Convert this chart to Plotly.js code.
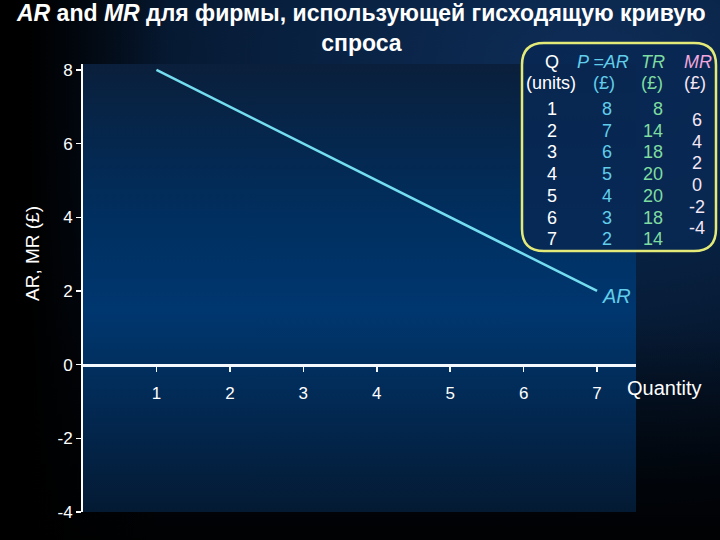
<!DOCTYPE html>
<html>
<head>
<meta charset="utf-8">
<script src="https://cdn.plot.ly/plotly-3.0.1.min.js"></script>
<style>
  html, body { margin:0; padding:0; width:720px; height:540px; overflow:hidden; }
  body {
    background:
      linear-gradient(90deg, #000 0px, #000 28px, rgba(0,0,0,0) 170px),
      linear-gradient(180deg, rgba(0,0,0,0) 60%, rgba(0,0,0,0.85) 100%),
      radial-gradient(ellipse 95% 85% at 82% 12%, #0e2d58 0%, #08203f 45%, #020a16 100%);
  }
  #plotbg {
    position:absolute; left:83px; top:64px; width:553px; height:448px;
    background: linear-gradient(180deg, #0a1f3b 0%, #002f60 35%, #00376f 55%, #022a55 75%, #041a33 100%);
  }
  #chart { position:absolute; left:0; top:0; width:720px; height:540px; }
</style>
</head>
<body>
<div id="plotbg"></div>
<div id="chart"></div>
<script>
// ---- data ----
const quantity = [1, 2, 3, 4, 5, 6, 7];
const priceAR = [8, 7, 6, 5, 4, 3, 2];
const totalRevenue = [8, 14, 18, 20, 20, 18, 14];
const marginalRevenue = [6, 4, 2, 0, -2, -4];
const yTicks = [8, 6, 4, 2, 0, -2, -4];
const xTicks = [1, 2, 3, 4, 5, 6, 7];
const titleText = '<b><i>AR</i> and <i>MR</i> для фирмы, использующей гисходящую кривую<br>спроса</b>';

// ---- layout helpers (pixel -> paper) ----
const L = 83, T = 64, W = 553, H = 448;
const px = x => (x - L) / W;
const py = y => (T + H - y) / H;

const yMin = -4, yMax = 8.16;
const white = '#ffffff';
const font = 'Liberation Sans, Arial, sans-serif';

const annotations = [];
function txt(text, x, y, color, size, xanchor, extra) {
  annotations.push(Object.assign({
    text: text, xref: 'paper', yref: 'paper', x: px(x), y: py(y),
    xanchor: xanchor || 'center', yanchor: 'middle', showarrow: false,
    font: {family: font, size: size || 18, color: color}
  }, extra || {}));
}

const cQ = '#ffffff', cAR = '#62cdea', cTR = '#7fdca0', cMR = '#f2a6dc', cMRv = '#f4e6f4';

// title
txt(titleText, 361, 28, white, 23, 'center');

// table headers
txt('Q', 552, 62, cQ);
txt('<i>P =AR</i>', 603, 62, cAR);
txt('<i>TR</i>', 653, 62, cTR);
txt('<i>MR</i>', 698, 62, cMR);
txt('(units)', 551, 83, cQ);
txt('(£)', 604, 83, cAR);
txt('(£)', 652, 83, cTR);
txt('(£)', 695, 83, cMRv);

// table rows
const rowY0 = 109, rowStep = 21.7;
quantity.forEach((q, i) => {
  const y = rowY0 + i * rowStep;
  txt(String(q), 552, y, cQ);
  txt(String(priceAR[i]), 607, y, cAR);
  txt(String(totalRevenue[i]), 665, y, cTR, 18, 'right');
});
marginalRevenue.forEach((m, i) => {
  const y = rowY0 + (i + 0.5) * rowStep;
  txt(String(m), 697, y, cMRv);
});

// AR label at end of curve
annotations.push({
  text: '<i>AR</i>', xref: 'x', yref: 'y',
  x: quantity[quantity.length - 1], y: priceAR[priceAR.length - 1],
  xanchor: 'left', yanchor: 'middle', xshift: 3, yshift: -5, showarrow: false,
  font: {family: font, size: 20, color: cAR}
});
// Quantity label
annotations.push({
  text: 'Quantity', xref: 'paper', yref: 'y', x: px(625), y: 0,
  xanchor: 'left', yanchor: 'middle', yshift: -23, showarrow: false,
  font: {family: font, size: 20, color: white}
});
// y-axis title
annotations.push({
  text: 'AR, MR (£)', xref: 'paper', yref: 'paper', x: px(32), y: py(254),
  xanchor: 'center', yanchor: 'middle', textangle: -90, showarrow: false,
  font: {family: font, size: 19, color: white}
});

// rounded table box
function roundRect(x0, y0, x1, y1, r) {
  const X = v => px(v), Y = v => py(v);
  return `M ${X(x0 + r)} ${Y(y0)} L ${X(x1 - r)} ${Y(y0)} ` +
    `Q ${X(x1)} ${Y(y0)} ${X(x1)} ${Y(y0 + r)} L ${X(x1)} ${Y(y1 - r)} ` +
    `Q ${X(x1)} ${Y(y1)} ${X(x1 - r)} ${Y(y1)} L ${X(x0 + r)} ${Y(y1)} ` +
    `Q ${X(x0)} ${Y(y1)} ${X(x0)} ${Y(y1 - r)} L ${X(x0)} ${Y(y0 + r)} ` +
    `Q ${X(x0)} ${Y(y0)} ${X(x0 + r)} ${Y(y0)} Z`;
}

const trace = {
  x: quantity, y: priceAR, type: 'scatter', mode: 'lines',
  line: {color: '#74def0', width: 2.5}, hoverinfo: 'skip', showlegend: false
};

const layout = {
  width: 720, height: 540,
  margin: {l: L, r: 720 - L - W, t: T, b: 540 - T - H, pad: 0},
  paper_bgcolor: 'rgba(0,0,0,0)', plot_bgcolor: 'rgba(0,0,0,0)',
  xaxis: {
    range: [0, 7.53], tickvals: xTicks, ticktext: xTicks.map(String),
    showgrid: false, zeroline: false, showline: true, linecolor: '#f4f8ff', linewidth: 3,
    ticks: 'outside', ticklen: 5, tickwidth: 1.5, tickcolor: '#f4f8ff',
    tickfont: {family: font, size: 17, color: white},
    anchor: 'free', position: (0 - yMin) / (yMax - yMin), ticklabelstandoff: 7
  },
  yaxis: {
    range: [yMin, yMax], tickvals: yTicks, ticktext: yTicks.map(String),
    showgrid: false, zeroline: false, showline: true, linecolor: white, linewidth: 2,
    ticks: 'outside', ticklen: 5, tickwidth: 1.5, tickcolor: white,
    tickfont: {family: font, size: 17, color: white}
  },
  shapes: [{
    type: 'path', xref: 'paper', yref: 'paper', path: roundRect(522, 43, 716, 251, 22),
    fillcolor: 'rgba(8,40,84,0.85)', line: {color: '#e4ea78', width: 2.5}, layer: 'above'
  }],
  annotations: annotations
};

Plotly.newPlot('chart', [trace], layout, {displayModeBar: false, staticPlot: true});
</script>
</body>
</html>
